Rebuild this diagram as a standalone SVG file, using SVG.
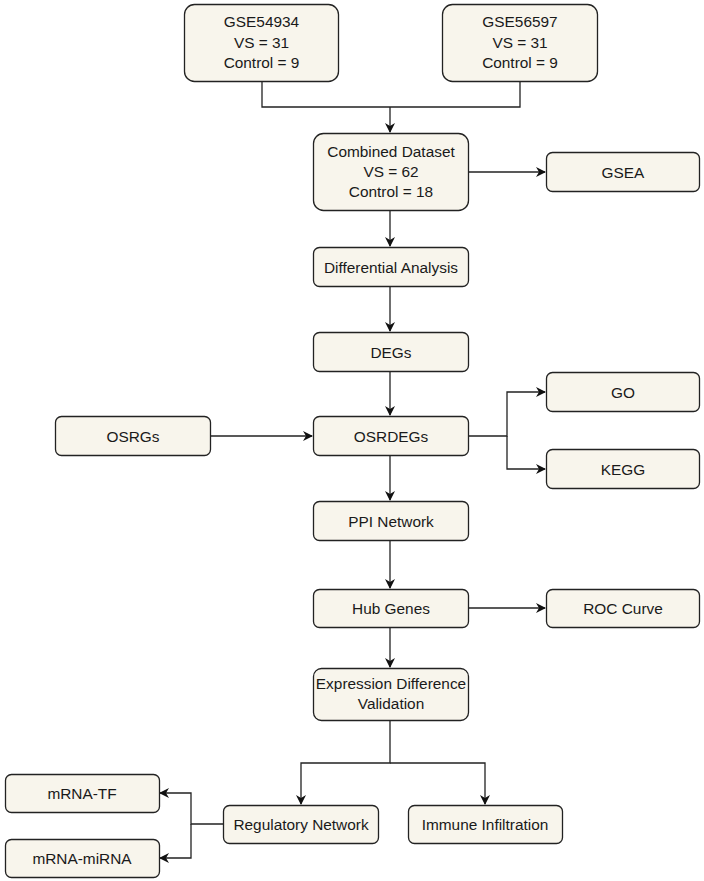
<svg xmlns="http://www.w3.org/2000/svg" width="704" height="881" viewBox="0 0 704 881">
<style>
.n rect{fill:#f8f5ec;stroke:#222;stroke-width:1.3}
.n text{font-family:"Liberation Sans",Arial,sans-serif;font-size:15.4px;fill:#1a1a1a;text-anchor:middle}
.c path{fill:none;stroke:#222;stroke-width:1.3}
</style>
<defs>
<marker id="a" viewBox="0 0 10 10" refX="9" refY="5" markerWidth="10" markerHeight="10" markerUnits="userSpaceOnUse" orient="auto">
<path d="M0,0 L10,5 L0,10 L3,5 Z" fill="#111"/>
</marker>
</defs>
<rect width="704" height="881" fill="#fff"/>
<g class="c">
<path d="M262,81 V107 H520 V81"/>
<path d="M390,107 V132" marker-end="url(#a)"/>
<path d="M468,172 H545" marker-end="url(#a)"/>
<path d="M390,210 V246" marker-end="url(#a)"/>
<path d="M390,287 V331" marker-end="url(#a)"/>
<path d="M390,371 V415" marker-end="url(#a)"/>
<path d="M210,436 H312" marker-end="url(#a)"/>
<path d="M468,436 H507 V392 H545" marker-end="url(#a)"/>
<path d="M507,436 V469 H545" marker-end="url(#a)"/>
<path d="M390,455 V500" marker-end="url(#a)"/>
<path d="M390,540 V588" marker-end="url(#a)"/>
<path d="M468,608 H545" marker-end="url(#a)"/>
<path d="M390,627 V667" marker-end="url(#a)"/>
<path d="M390,720 V763 H301 V804" marker-end="url(#a)"/>
<path d="M390,763 H485 V804" marker-end="url(#a)"/>
<path d="M223,824 H191 V793 H160" marker-end="url(#a)"/>
<path d="M191,824 V858 H160" marker-end="url(#a)"/>
</g>
<g id="gse54934" class="n"><rect x="184.5" y="4.5" width="154" height="77" rx="10"/><text x="261.5" y="27">GSE54934</text><text x="261.5" y="48">VS = 31</text><text x="261.5" y="68">Control = 9</text></g>
<g id="gse56597" class="n"><rect x="442.5" y="4.5" width="155" height="77" rx="10"/><text x="520" y="27">GSE56597</text><text x="520" y="48">VS = 31</text><text x="520" y="68">Control = 9</text></g>
<g id="combined" class="n"><rect x="313.5" y="133.5" width="155" height="77" rx="10"/><text x="391" y="157">Combined Dataset</text><text x="391" y="177">VS = 62</text><text x="391" y="197">Control = 18</text></g>
<g id="gsea" class="n"><rect x="546.5" y="152.5" width="153" height="39" rx="6"/><text x="623" y="177.5">GSEA</text></g>
<g id="diff" class="n"><rect x="313.5" y="247.5" width="155" height="39" rx="6"/><text x="391" y="272.5">Differential Analysis</text></g>
<g id="degs" class="n"><rect x="313.5" y="332.5" width="155" height="39" rx="6"/><text x="391" y="357.5">DEGs</text></g>
<g id="osrgs" class="n"><rect x="55.5" y="416.5" width="155" height="39" rx="6"/><text x="133" y="441.5">OSRGs</text></g>
<g id="osrdegs" class="n"><rect x="313.5" y="416.5" width="155" height="39" rx="6"/><text x="391" y="441.5">OSRDEGs</text></g>
<g id="go" class="n"><rect x="546.5" y="372.5" width="153" height="39" rx="6"/><text x="623" y="397.5">GO</text></g>
<g id="kegg" class="n"><rect x="546.5" y="449.5" width="153" height="39" rx="6"/><text x="623" y="474.5">KEGG</text></g>
<g id="ppi" class="n"><rect x="313.5" y="501.5" width="155" height="39" rx="6"/><text x="391" y="526.5">PPI Network</text></g>
<g id="hub" class="n"><rect x="313.5" y="589.5" width="155" height="38" rx="6"/><text x="391" y="614">Hub Genes</text></g>
<g id="roc" class="n"><rect x="546.5" y="589.5" width="153" height="38" rx="6"/><text x="623" y="614">ROC Curve</text></g>
<g id="edv" class="n"><rect x="313.5" y="668.5" width="155" height="52" rx="8"/><text x="391" y="688.5">Expression Difference</text><text x="391" y="709">Validation</text></g>
<g id="regnet" class="n"><rect x="223.5" y="805.5" width="155" height="38" rx="6"/><text x="301" y="830">Regulatory Network</text></g>
<g id="immune" class="n"><rect x="408.5" y="805.5" width="154" height="38" rx="6"/><text x="485" y="830">Immune Infiltration</text></g>
<g id="mrnatf" class="n"><rect x="5.5" y="774.5" width="154" height="38" rx="6"/><text x="82" y="799">mRNA-TF</text></g>
<g id="mrnamirna" class="n"><rect x="5.5" y="839.5" width="154" height="38" rx="6"/><text x="82" y="864">mRNA-miRNA</text></g>
</svg>
